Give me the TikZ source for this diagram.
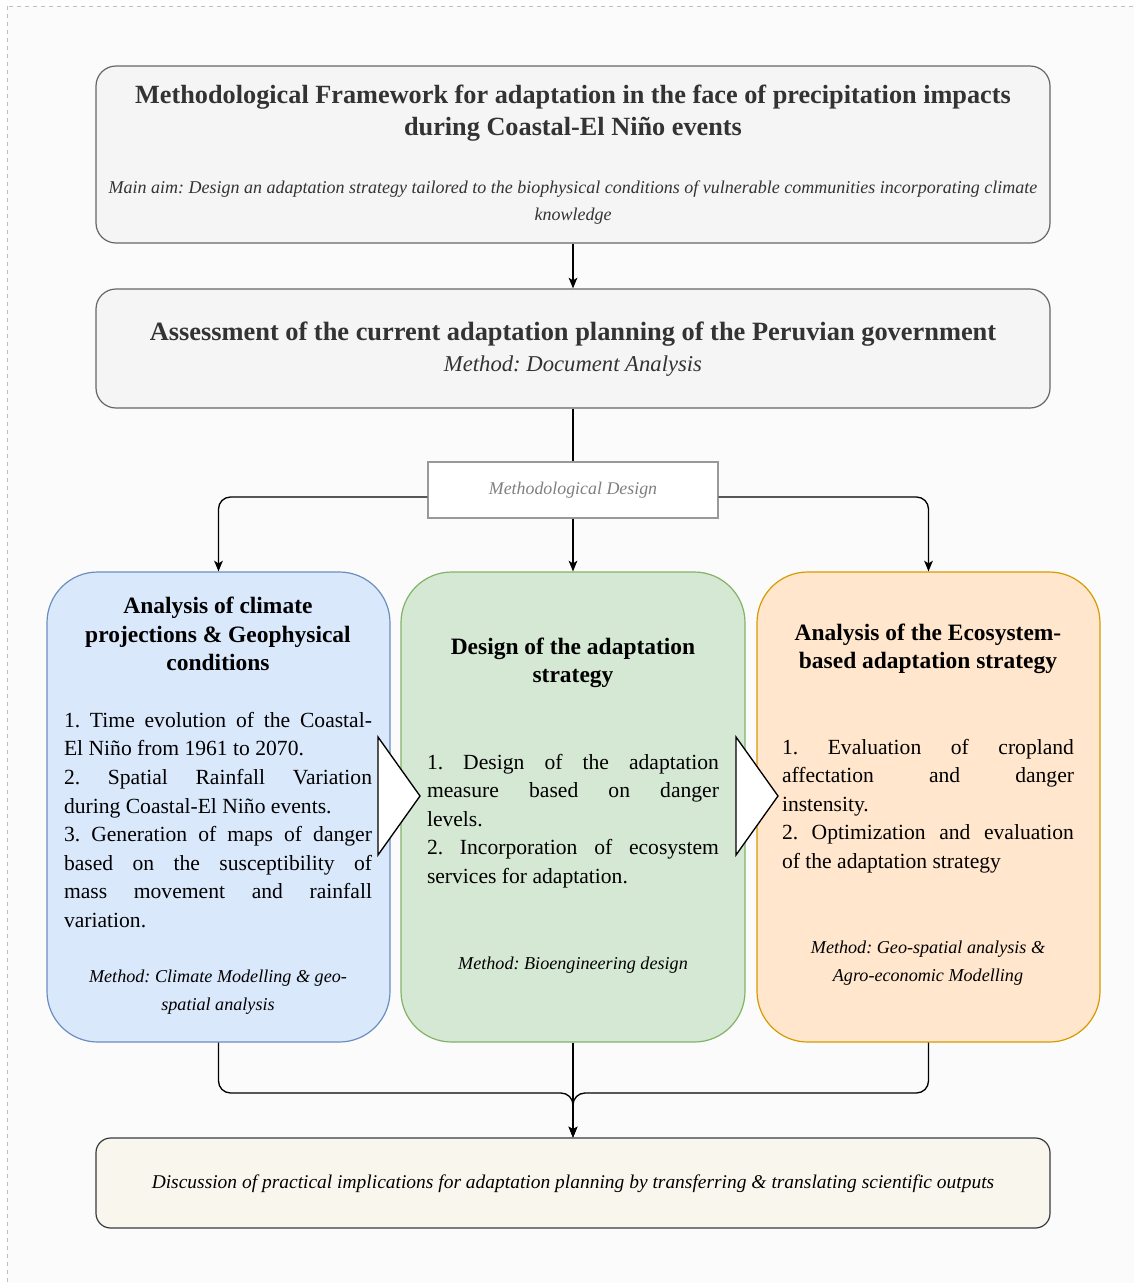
\documentclass[tikz,border=0pt]{standalone}
\usepackage{fontspec}
\setmainfont{Liberation Serif}
\usetikzlibrary{arrows.meta}
\frenchspacing
\definecolor{bgc}{HTML}{FBFBFB}
\definecolor{bgline}{HTML}{BFBFBF}
\definecolor{grayfill}{HTML}{F5F5F5}
\definecolor{graystroke}{HTML}{666666}
\definecolor{darktext}{HTML}{333333}
\definecolor{mdstroke}{HTML}{999999}
\definecolor{mdtext}{HTML}{808080}
\definecolor{bluefill}{HTML}{DAE8FC}
\definecolor{bluestroke}{HTML}{6C8EBF}
\definecolor{greenfill}{HTML}{D5E8D4}
\definecolor{greenstroke}{HTML}{82B366}
\definecolor{orangefill}{HTML}{FFE6CC}
\definecolor{orangestroke}{HTML}{D79B00}
\definecolor{botfill}{HTML}{F9F7ED}
\definecolor{botstroke}{HTML}{36393D}
\begin{document}
\begin{tikzpicture}[x=0.75pt,y=-0.75pt,
  greybox/.style={draw=graystroke,fill=grayfill,line width=0.9pt,rounded corners=15pt,minimum width=715.5pt,inner sep=0pt},
  colbox/.style={line width=0.9pt,rounded corners=38pt,minimum height=352.5pt,inner sep=0pt},
  txt/.style={inner sep=0pt,align=center},
  conn/.style={line width=1pt,black},
  arr/.style={conn,-{Stealth[length=8pt,width=6.5pt,inset=2pt]}},
  chev/.style={draw=black,fill=white,line width=1pt,line join=miter},
  coltitle/.style={font=\fontsize{17.6}{21.4}\selectfont\bfseries,align=center,inner sep=0pt},
  body/.style={font=\fontsize{16.2}{21.45}\selectfont,align=justify,inner sep=0pt},
  meth/.style={font=\fontsize{13.6}{21.4}\selectfont\itshape,align=center,inner sep=0pt}
]
\useasboundingbox (0,0) rectangle (1133,1283);
\path[fill=bgc,draw=bgline,dashed,line width=0.75pt] (7,6) rectangle (1145,1295);

% boxes
\node[greybox,minimum height=132.75pt] (b1) at (573,154.5) {};
\node[greybox,minimum height=89.25pt] (b2) at (573,348.5) {};
\node[draw=mdstroke,fill=white,line width=0.9pt,minimum width=217.5pt,minimum height=42pt,inner sep=0pt] (md) at (573,490) {};
\node[colbox,draw=bluestroke,fill=bluefill,minimum width=257.25pt] (blue) at (218.5,807) {};
\node[colbox,draw=greenstroke,fill=greenfill,minimum width=258pt] (green) at (573,807) {};
\node[colbox,draw=orangestroke,fill=orangefill,minimum width=257.25pt] (orange) at (928.5,807) {};
\node[draw=botstroke,fill=botfill,line width=0.9pt,rounded corners=11pt,minimum width=715.5pt,minimum height=67.5pt,inner sep=0pt] (bot) at (573,1183) {};

% chevrons
\draw[chev] (378,737) -- (420,796) -- (378,855) -- cycle;
\draw[chev] (736,737) -- (778,796) -- (736,855) -- cycle;

% texts
\node[txt,text=darktext,font=\fontsize{19.7}{24}\selectfont\bfseries] (t1) at (573,113) {Methodological Framework for adaptation in the face of precipitation impacts\\during Coastal-El Niño events};
\node[txt,text=darktext,font=\fontsize{13.5}{20.25}\selectfont\itshape] (aim) at (573,203) {Main aim: Design an adaptation strategy tailored to the biophysical conditions of vulnerable communities incorporating climate\\knowledge};
\node[txt,text=darktext,font=\fontsize{19.8}{24}\selectfont\bfseries] (t2) at (573,334) {Assessment of the current adaptation planning of the Peruvian government};
\node[txt,text=darktext,font=\fontsize{17}{24}\selectfont\itshape] (m2) at (573,366) {Method: Document Analysis};
\node[txt,text=mdtext,font=\fontsize{13.4}{16}\selectfont\itshape] (mdt) at (573,490) {Methodological Design};

\node[coltitle] (bt) at (218,634) {Analysis of climate\\projections \& Geophysical\\conditions};
\node[body,text width=231pt] (bb) at (218,820) {1. Time evolution of the Coastal-\linebreak El Niño from 1961 to 2070.\\2. Spatial Rainfall Variation\linebreak during Coastal-El Niño events.\\3. Generation of maps of danger\linebreak based on the susceptibility of\linebreak mass movement and rainfall\linebreak variation.};
\node[meth] (bm) at (218,992) {Method: Climate Modelling \& geo-\\spatial analysis};

\node[coltitle] (gt) at (573,663) {Design of the adaptation\\strategy};
\node[body,text width=219pt] (gb) at (573,821) {1. Design of the adaptation\linebreak measure based on danger\linebreak levels.\\2. Incorporation of ecosystem\linebreak services for adaptation.};
\node[meth] (gm) at (573,965) {Method: Bioengineering design};

\node[coltitle] (ot) at (928,649) {Analysis of the Ecosystem-\\based adaptation strategy};
\node[body,text width=219pt] (ob) at (928,806) {1. Evaluation of cropland\linebreak affectation and danger\linebreak instensity.\\2. Optimization and evaluation\linebreak of the adaptation strategy};
\node[meth] (om) at (928,963) {Method: Geo-spatial analysis \&\\Agro-economic Modelling};

\node[txt,font=\fontsize{14.6}{18}\selectfont\itshape] (bott) at (573,1184) {Discussion of practical implications for adaptation planning by transferring \& translating scientific outputs};

% connectors
\coordinate (j) at (573,1093);
\draw[arr] (b1.south) -- (b2.north);
\draw[conn] (b2.south) -- (md.north);
\draw[arr] (md.south) -- (green.north);
\draw[arr,rounded corners=9pt] ([yshift=-5.25pt]md.west) -| (blue.north);
\draw[arr,rounded corners=9pt] ([yshift=-5.25pt]md.east) -| (orange.north);
\draw[arr] (green.south) -- (bot.north);
\draw[arr,rounded corners=9pt] (blue.south) |- (j) -- (bot.north);
\draw[arr,rounded corners=9pt] (orange.south) |- (j) -- (bot.north);
\end{tikzpicture}
\end{document}
